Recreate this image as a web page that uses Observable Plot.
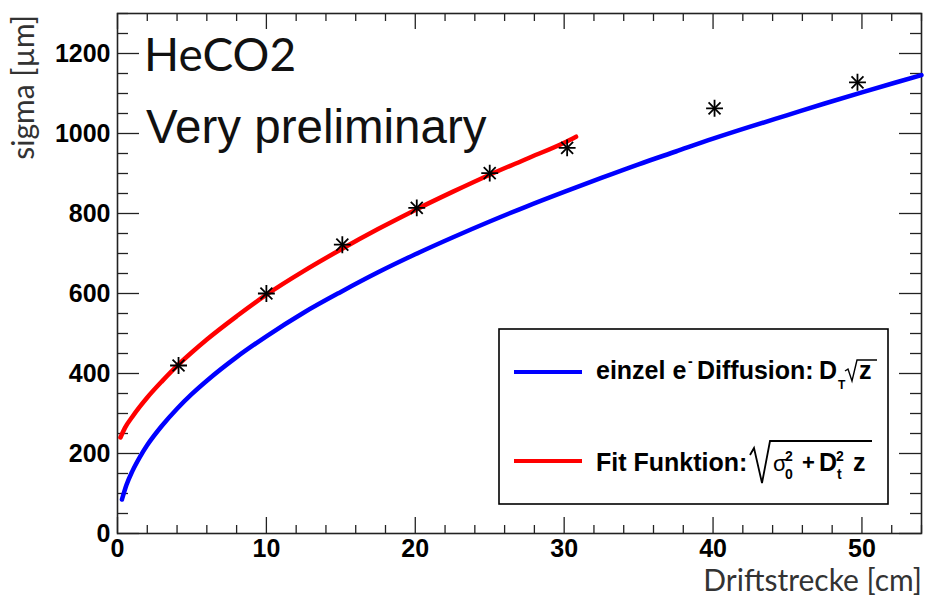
<!DOCTYPE html>
<html><head><meta charset="utf-8">
<script src="https://cdn.jsdelivr.net/npm/d3@7"></script>
<script src="https://cdn.jsdelivr.net/npm/@observablehq/plot@0.6"></script>
<style>
body{margin:0;background:#fff}
#chart{position:relative;width:926px;height:596px}
</style>
</head><body><div id="chart"></div>
<script>
// Measured points (Driftstrecke [cm], sigma [µm])
const pointX = [4.1, 10.0, 15.1, 20.1, 25.0, 30.2, 40.1, 49.7];
const pointY = [420, 600, 722, 814, 901, 964, 1063, 1128];

// Blue curve: einzel e- Diffusion
const blueX = [0.3, 0.6, 1, 1.5, 2, 3, 4, 5, 6, 8, 10, 12.5, 15, 17.5, 20, 22.5, 25, 27.5, 30, 32.5, 35, 37.5, 40, 42.5, 45, 47.5, 50, 52.5, 54];
const blueY = [85, 121, 156, 191, 221, 270, 312, 349, 382, 441, 493, 552, 604, 653, 698, 740, 780, 818, 854, 889, 923, 955, 987, 1017, 1046, 1075, 1103, 1130, 1146];

// Red curve: Fit Funktion
const redX = [0.2, 0.5, 1, 1.5, 2, 3, 4, 5, 6, 8, 10, 12.5, 15, 17.5, 20, 22.5, 25, 27.5, 30, 30.8];
const redY = [240, 264, 292, 317, 340, 381, 419, 453, 485, 543, 597, 656, 710, 761, 809, 854, 897, 937, 977, 992];

// Tick values
const xMajor = [0, 10, 20, 30, 40, 50];
const xMinor = [2, 4, 6, 8, 12, 14, 16, 18, 22, 24, 26, 28, 32, 34, 36, 38, 42, 44, 46, 48, 52, 54];
const yMajor = [0, 200, 400, 600, 800, 1000, 1200];
const yMinor = [50, 100, 150, 250, 300, 350, 450, 500, 550, 650, 700, 750, 850, 900, 950, 1050, 1100, 1150, 1250, 1300];

const points = pointX.map((x, i) => ({x, y: pointY[i]}));
const blue = blueX.map((x, i) => ({x, y: blueY[i]}));
const red = redX.map((x, i) => ({x, y: redY[i]}));

const W = 926, H = 596, mL = 117, mR = 5, mT = 13, mB = 63;
const fw = W - mL - mR, fh = H - mT - mB;
const axCol = "#222";

const svg = Plot.plot({
  width: W, height: H,
  marginLeft: mL, marginRight: mR, marginTop: mT, marginBottom: mB,
  x: {domain: [0, 54]},
  y: {domain: [0, 1300]},
  style: {fontFamily: "Liberation Sans, Arial, sans-serif", background: "white", overflow: "visible"},
  marks: [
    // inward ticks (ROOT style), bottom / top
    Plot.ruleX(xMajor, {x: d => d, insetTop: fh - 16, stroke: axCol, strokeWidth: 1.3}),
    Plot.ruleX(xMajor, {x: d => d, insetBottom: fh - 16, stroke: axCol, strokeWidth: 1.3}),
    Plot.ruleX(xMinor, {x: d => d, insetTop: fh - 8, stroke: axCol, strokeWidth: 1.3}),
    Plot.ruleX(xMinor, {x: d => d, insetBottom: fh - 8, stroke: axCol, strokeWidth: 1.3}),
    // left / right
    Plot.ruleY(yMajor, {y: d => d, insetRight: fw - 22, stroke: axCol, strokeWidth: 1.3}),
    Plot.ruleY(yMajor, {y: d => d, insetLeft: fw - 22, stroke: axCol, strokeWidth: 1.3}),
    Plot.ruleY(yMinor, {y: d => d, insetRight: fw - 11, stroke: axCol, strokeWidth: 1.3}),
    Plot.ruleY(yMinor, {y: d => d, insetLeft: fw - 11, stroke: axCol, strokeWidth: 1.3}),
    Plot.frame({stroke: axCol, strokeWidth: 1.6}),
    Plot.axisX(xMajor, {tickSize: 0, tickPadding: 6, tickFormat: d => String(d), fontSize: 25, fontWeight: "bold", fill: "#000", label: null}),
    Plot.axisY(yMajor, {tickSize: 0, tickPadding: 7, tickFormat: d => String(d), fontSize: 25, fontWeight: "bold", fill: "#000", label: null}),
    Plot.line(blue, {x: "x", y: "y", stroke: "#0000ff", strokeWidth: 4.5, curve: "monotone-x"}),
    Plot.line(red, {x: "x", y: "y", stroke: "#ff0000", strokeWidth: 4.5, curve: "monotone-x"}),
    Plot.dot(points, {x: "x", y: "y", symbol: "plus", r: 5.5, stroke: "#000", strokeWidth: 1.8}),
    Plot.dot(points, {x: "x", y: "y", symbol: "times", r: 5.5, stroke: "#000", strokeWidth: 1.8})
  ]
});

document.getElementById("chart").appendChild(svg);

const s = d3.select(svg);
const gill = "Lato, 'Open Sans', sans-serif";
const helv = "'Liberation Sans', Arial, sans-serif";

// Axis titles
s.append("text").attr("x", 922).attr("y", 591).attr("text-anchor", "end")
  .attr("font-family", gill).attr("font-size", 30).attr("fill", "#333").text("Driftstrecke [cm]");
s.append("text").attr("transform", "translate(34,15) rotate(-90)").attr("text-anchor", "end")
  .attr("font-family", gill).attr("font-size", 30).attr("fill", "#333").text("sigma [µm]");

// Annotations
s.append("text").attr("x", 144).attr("y", 71).attr("text-anchor", "start").attr("font-family", gill).attr("font-size", 46).attr("fill", "#111").text("HeCO2");
s.append("text").attr("x", 146).attr("y", 143).attr("text-anchor", "start").attr("font-family", helv).attr("font-size", 47.5).attr("fill", "#111").text("Very preliminary");

// Legend
const lg = s.append("g").attr("font-family", helv).attr("font-weight", "bold").attr("fill", "#000").attr("text-anchor", "start");
lg.append("rect").attr("x", 499).attr("y", 329).attr("width", 389).attr("height", 175)
  .attr("fill", "white").attr("stroke", "#000").attr("stroke-width", 1.6);
lg.append("line").attr("x1", 514).attr("x2", 582).attr("y1", 372).attr("y2", 372).attr("stroke", "#0000ff").attr("stroke-width", 4);
lg.append("line").attr("x1", 514).attr("x2", 582).attr("y1", 461).attr("y2", 461).attr("stroke", "#ff0000").attr("stroke-width", 4);

const t = (x, y, size, str, extra) => {
  const e = lg.append("text").attr("x", x).attr("y", y).attr("font-size", size).attr("text-anchor", "start").text(str);
  if (extra) extra(e);
  return e;
};
// line 1: einzel e^- Diffusion: D_T sqrt z
t(596, 379, 25, "einzel e");
t(688, 366, 14, "-");
t(697, 379, 25, "Diffusion:");
t(819, 379, 25, "D");
t(838, 389, 12, "T");
lg.append("path").attr("d", "M845,371 L848,369 L852,381 L857,360 L877,360")
  .attr("fill", "none").attr("stroke", "#000").attr("stroke-width", 1.4);
t(859, 379, 25, "z");
// line 2: Fit Funktion: sqrt(sigma0^2 + Dt^2 z)
t(596, 471, 25, "Fit Funktion:");
lg.append("path").attr("d", "M750,455 L754,448 L762,483 L770,441 L872,441")
  .attr("fill", "none").attr("stroke", "#000").attr("stroke-width", 1.8);
t(773, 471, 22, "σ", e => e.attr("font-weight", "normal"));
t(785, 461, 14, "2");
t(785, 479, 14, "0");
t(802, 470, 22, "+");
t(819, 471, 25, "D");
t(836, 461, 14, "2");
t(837, 479, 14, "t");
t(853, 471, 25, "z");
</script>
</body></html>
